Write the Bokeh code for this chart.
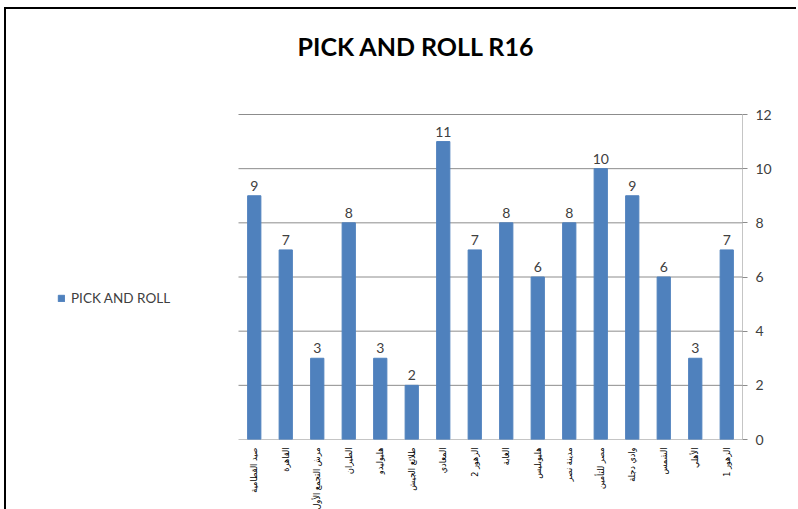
import math
from bokeh.plotting import figure
from bokeh.models import (Range1d, FixedTicker, Legend, LegendItem,
                          ColumnDataSource, LabelSet, Label)
from bokeh.core.properties import value
from bokeh.embed import file_html
from bokeh.resources import INLINE

title_text = "PICK AND ROLL R16"
series_name = "PICK AND ROLL"
categories = ["صيد القطامية", "القاهرة", "مرش التجمع الأول", "الطيران", "هليوليدو",
              "طلائع الجيش", "المعادي", "الزهور 2", "الغابة", "هليوبليس",
              "مدينة نصر", "مصر للتأمين", "وادي دجلة", "الشمس", "الأهلي", "الزهور 1"]
values = [9, 7, 3, 8, 3, 2, 11, 7, 8, 6, 8, 10, 9, 6, 3, 7]
y_ticks = [0, 2, 4, 6, 8, 10, 12]

n = len(categories)
y_max = y_ticks[-1]
centers = [i + 0.5 for i in range(n)]
src = ColumnDataSource(dict(x=centers, val=values, lab=[str(v) for v in values]))

# pixel layout: the frame also covers the title/legend area; the value block is
# cat_block_px wide and value_block_px tall in its lower-right part
frame_w, frame_h = 702, 430
cat_block_px, value_block_px = 504, 325
px_per_cat = cat_block_px / n
x_start = -(frame_w - cat_block_px) / px_per_cat
y_end = y_max * frame_h / value_block_px

p = figure(frame_width=frame_w, frame_height=frame_h, output_backend="svg",
           toolbar_location=None,
           x_range=Range1d(x_start, n), y_range=Range1d(0, y_end), y_axis_location="right",
           min_border_left=34, min_border_right=54, min_border_top=0, min_border_bottom=68)
p.outline_line_color = None
p.styles = {"border-left": "2px solid black", "border-top": "2px solid black",
            "margin-left": "4px", "margin-top": "7px"}

p.xgrid.grid_line_color = None
p.ygrid.grid_line_color = None
# gridlines across the category block, and the value axis line
p.segment(x0=[0] * len(y_ticks), x1=[n] * len(y_ticks), y0=y_ticks, y1=y_ticks,
          line_color="#8c8c8c", line_width=1)
p.segment(x0=[n], x1=[n], y0=[0], y1=[y_max], line_color="#8c8c8c", line_width=1)

bars = p.vbar(x="x", top="val", width=0.42, source=src, color="#4F81BD")

p.add_layout(LabelSet(x="x", y="val", text="lab", source=src, text_align="center",
                      text_baseline="bottom", y_offset=5, text_font=value("Lato"),
                      text_font_size="14px", text_color="#404040"))

ya = p.yaxis[0]
ya.ticker = FixedTicker(ticks=y_ticks)
ya.axis_line_color = None
ya.major_tick_line_color = "#8c8c8c"
ya.major_tick_in = 0
ya.major_tick_out = 5
ya.minor_tick_line_color = None
ya.major_label_text_font = "Lato"
ya.major_label_text_font_size = "14px"
ya.major_label_text_color = "#404040"
ya.major_label_standoff = 8

xa = p.xaxis[0]
xa.ticker = FixedTicker(ticks=centers)
xa.major_label_overrides = {c: name for c, name in zip(centers, categories)}
xa.axis_line_color = None
xa.major_tick_line_color = None
xa.minor_tick_line_color = None
xa.major_label_orientation = math.pi / 2
xa.major_label_text_font = "DejaVu Sans Condensed"
xa.major_label_text_font_size = "9px"
xa.major_label_text_color = "#000000"
xa.major_label_standoff = 2

p.add_layout(Label(x=257, y=394, x_units="screen", y_units="screen", text=title_text,
                   text_baseline="middle", text_font="Lato", text_font_style="bold",
                   text_font_size="25px", text_color="#000000"))

legend = Legend(items=[LegendItem(label=series_name, renderers=[bars])],
                location=(17, 133), background_fill_alpha=0, border_line_color=None,
                label_text_font="Lato", label_text_font_size="13.5px",
                label_text_color="#404040", glyph_width=8, glyph_height=8,
                padding=0, margin=0, label_standoff=6)
p.add_layout(legend)

open("out.html", "w").write(file_html(p, INLINE))
